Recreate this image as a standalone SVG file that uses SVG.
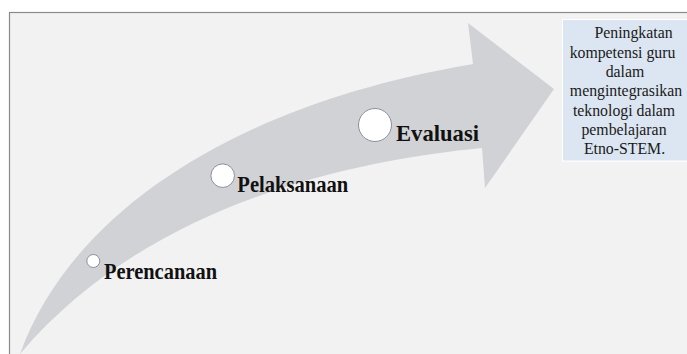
<svg xmlns="http://www.w3.org/2000/svg" width="687" height="354" viewBox="0 0 687 354">
  <style>
    .lbl { font-family: "Liberation Serif", "Times New Roman", serif; font-weight: bold; font-size: 22.5px; fill: #111; }
    .box { font-family: "Liberation Serif", "Times New Roman", serif; font-size: 15.8px; fill: #1a1a1a; text-anchor: middle; }
    .dot { fill: #ffffff; stroke: #8c909c; stroke-width: 1; }
  </style>
  <rect x="0" y="0" width="687" height="354" fill="#ffffff"/>
  <rect x="9.5" y="12.5" width="690" height="350" fill="#f2f2f2" stroke="#8a8a8a" stroke-width="1.2"/>
  <g id="connectors">
    <path id="arrow" d="M20,354 C70,215 230,105 473,64 L468,23 L554,89 L485,188 L482,148 C360,160 150,200 20,354 Z" fill="#d1d2d5"/>
  </g>
  <g id="node-perencanaan">
    <circle class="dot" cx="93.3" cy="261" r="6.5"/>
    <text class="lbl" x="104" y="278.5" textLength="113" lengthAdjust="spacingAndGlyphs">Perencanaan</text>
  </g>
  <g id="node-pelaksanaan">
    <circle class="dot" cx="222.7" cy="175.7" r="11.8"/>
    <text class="lbl" x="237.3" y="192" textLength="111" lengthAdjust="spacingAndGlyphs">Pelaksanaan</text>
  </g>
  <g id="node-evaluasi">
    <circle class="dot" cx="375" cy="125" r="16.5"/>
    <text class="lbl" x="396" y="141" textLength="83" lengthAdjust="spacingAndGlyphs">Evaluasi</text>
  </g>
  <g id="node-outcome">
    <rect x="562.5" y="19.5" width="125" height="141.5" fill="#dce6f2" stroke="#ffffff" stroke-width="1"/>
    <text class="box" x="633.5" y="38">Peningkatan</text>
    <text class="box" x="622.5" y="57.5">kompetensi guru</text>
    <text class="box" x="625" y="77">dalam</text>
    <text class="box" x="626" y="96">mengintegrasikan</text>
    <text class="box" x="624" y="115.5">teknologi dalam</text>
    <text class="box" x="624" y="135">pembelajaran</text>
    <text class="box" x="624.5" y="154">Etno-STEM.</text>
  </g>
</svg>
